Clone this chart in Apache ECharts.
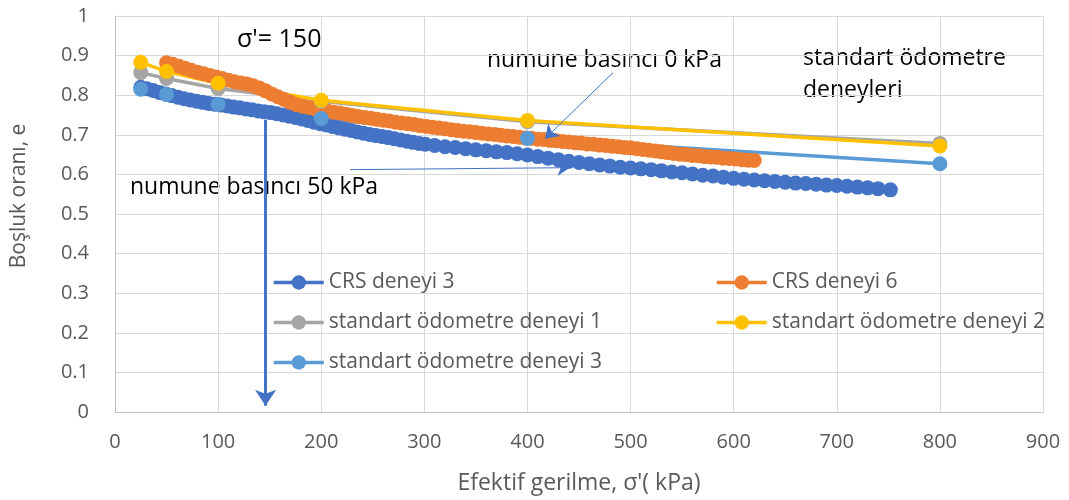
<!DOCTYPE html>
<html><head><meta charset="utf-8">
<script src="https://cdn.jsdelivr.net/npm/echarts@6/dist/echarts.min.js"></script>
<style>html,body{margin:0;padding:0;background:#fff}#c{width:1069px;height:500px}</style>
</head><body><div id="c"></div>
<script>
// ---- data ----
const seriesNames = ['CRS deneyi 3','CRS deneyi 6','standart ödometre deneyi 1','standart ödometre deneyi 2','standart ödometre deneyi 3'];
const stdX  = [25, 50, 100, 200, 400, 800];
const std1E = [0.857, 0.842, 0.817, 0.785, 0.733, 0.678];
const std2E = [0.883, 0.860, 0.830, 0.787, 0.736, 0.672];
const std3E = [0.815, 0.802, 0.777, 0.741, 0.691, 0.627];

const crs3X = [25,31,37,43,49,55,61,67,73,79,85,91,97,103,109,115,121,127,133,139,145,151,157,163,169,175,181,187,193,199,205,211,217,223,229,235,241,247,253,259,265,271,277,283,289,295,301,
  310,320,330,340,350,360,370,380,390,400,410,420,430,440,450,460,470,480,490,500,510,520,530,540,550,560,570,580,590,600,610,620,630,640,650,660,670,680,690,700,710,720,730,740,752];
const crs3E = [0.820,0.816,0.812,0.807,0.803,0.799,0.795,0.791,0.788,0.785,0.782,0.779,0.777,0.775,0.773,0.770,0.768,0.765,0.763,0.760,0.758,0.756,0.753,0.750,0.747,0.744,0.740,0.736,0.732,0.728,0.725,0.721,0.717,0.714,0.711,0.707,0.704,0.701,0.698,0.696,0.693,0.690,0.687,0.684,0.681,0.678,0.676,
  0.673,0.670,0.668,0.665,0.662,0.660,0.657,0.655,0.652,0.649,0.645,0.641,0.637,0.633,0.630,0.627,0.624,0.621,0.618,0.616,0.614,0.612,0.609,0.606,0.604,0.601,0.598,0.596,0.593,0.590,0.588,0.586,0.584,0.582,0.580,0.578,0.577,0.575,0.573,0.572,0.570,0.568,0.566,0.564,0.561];

const crs6X = [50,56,62,68,74,80,86,92,98,104,110,116,122,128,134,140,146,152,158,164,170,176,182,188,194,200,206,212,218,224,230,236,242,248,254,260,266,272,278,284,290,296,302,308,314,320,326,332,338,344,350,356,362,368,374,380,386,392,398,404,410,416,422,428,434,440,446,452,458,464,470,476,482,488,494,500,506,512,518,524,530,536,542,548,554,560,566,572,578,584,590,596,602,608,614,620];
const crs6E = [0.882,0.878,0.873,0.868,0.863,0.858,0.854,0.850,0.846,0.842,0.838,0.834,0.831,0.828,0.824,0.818,0.811,0.803,0.796,0.789,0.782,0.776,0.772,0.769,0.766,0.763,0.760,0.757,0.755,0.752,0.749,0.746,0.744,0.742,0.739,0.737,0.735,0.732,0.730,0.728,0.726,0.723,0.721,0.719,0.717,0.715,0.713,0.711,0.709,0.708,0.706,0.704,0.702,0.701,0.699,0.697,0.696,0.694,0.692,0.691,0.689,0.688,0.686,0.685,0.683,0.682,0.680,0.679,0.677,0.676,0.674,0.673,0.671,0.670,0.668,0.667,0.665,0.663,0.661,0.659,0.657,0.655,0.653,0.651,0.650,0.648,0.647,0.645,0.644,0.643,0.641,0.640,0.639,0.637,0.636,0.635];

const colors = ['#4472C4','#ED7D31','#A5A5A5','#FFC000','#5B9BD5'];
const FONT = 'Open Sans';

function pairs(xs, ys){ return xs.map((x,i)=>[x, ys[i]]); }

const chart = echarts.init(document.getElementById('c'), null, {renderer:'canvas'});

function lineSeries(name, xs, ys, color, size, lw, extra){
  return Object.assign({
    name: name, type: 'line', data: pairs(xs, ys),
    symbol: 'circle', symbolSize: size, showSymbol: true, showAllSymbol: true,
    lineStyle: {color: color, width: lw},
    itemStyle: {color: color},
    emphasis: {disabled: true},
    animation: false
  }, extra || {});
}

const legendCommon = {orient: 'vertical', top: 272, padding: 0, itemWidth: 50, itemHeight: 18, itemGap: 19,
  lineStyle: {width: 3.5},
  textStyle: {color: '#595959', fontSize: 21, fontFamily: FONT}};

const option = {
  animation: false,
  textStyle: {fontFamily: FONT},
  grid: {left: 115, right: 26, top: 16, bottom: 88, containLabel: false},
  xAxis: {
    type: 'value', min: 0, max: 900, interval: 100,
    axisLine: {show: true, lineStyle: {color: '#BFBFBF', width: 1}},
    axisTick: {show: false},
    splitLine: {show: true, lineStyle: {color: '#D9D9D9', width: 1}},
    axisLabel: {color: '#595959', fontSize: 20, margin: 20, fontFamily: FONT},
    name: "Efektif gerilme, σ'( kPa)", nameLocation: 'middle', nameGap: 60,
    nameTextStyle: {color: '#595959', fontSize: 23, fontFamily: FONT}
  },
  yAxis: {
    type: 'value', min: 0, max: 1, interval: 0.1,
    axisLine: {show: true, lineStyle: {color: '#BFBFBF', width: 1}},
    axisTick: {show: false},
    splitLine: {show: true, lineStyle: {color: '#D9D9D9', width: 1}},
    axisLabel: {color: '#595959', fontSize: 20, margin: 26, fontFamily: FONT}
  },
  legend: [
    Object.assign({left: 272, data: [seriesNames[0], seriesNames[2], seriesNames[4]]}, legendCommon),
    Object.assign({left: 715, data: [seriesNames[1], seriesNames[3]]}, legendCommon)
  ],
  graphic: [
    {type: 'text', x: 19, y: 196, rotation: Math.PI/2,
     style: {text: 'Boşluk oranı, e', fill: '#595959', font: '21px "Open Sans"', align: 'center', verticalAlign: 'middle'}},
    {type: 'text', x: 237, y: 40,
     style: {text: "σ'= 150", fill: '#000', font: '25px "Open Sans"', align: 'left', verticalAlign: 'middle'}},
    {type: 'text', x: 487, y: 60,
     style: {text: 'numune basıncı 0 kPa', fill: '#000', font: '23px "Open Sans"', align: 'left', verticalAlign: 'middle'}},
    {type: 'text', x: 130, y: 187,
     style: {text: 'numune basıncı 50 kPa', fill: '#000', font: '23px "Open Sans"', align: 'left', verticalAlign: 'middle'}},
    {type: 'text', x: 803, y: 58,
     style: {text: 'standart ödometre', fill: '#000', font: '23px "Open Sans"', align: 'left', verticalAlign: 'middle'}},
    {type: 'text', x: 803, y: 90,
     style: {text: 'deneyleri', fill: '#000', font: '23px "Open Sans"', align: 'left', verticalAlign: 'middle'}}
  ],
  series: [
    lineSeries(seriesNames[0], crs3X, crs3E, colors[0], 15, 3),
    lineSeries(seriesNames[1], crs6X, crs6E, colors[1], 15, 3),
    lineSeries(seriesNames[2], stdX, std1E, colors[2], 15, 3.5),
    lineSeries(seriesNames[3], stdX, std2E, colors[3], 15, 3.5),
    lineSeries(seriesNames[4], stdX, std3E, colors[4], 15, 3.5, {
      markLine: {
        silent: true, animation: false,
        label: {show: false},
        emphasis: {disabled: true},
        symbol: ['none', 'arrow'],
        data: [
          [{coord: [146, 0.738], lineStyle: {color: '#4472C4', width: 3, type: 'solid'}}, {coord: [146, 0.016], symbolSize: 16}],
          [{coord: [228, 0.612], lineStyle: {color: '#4472C4', width: 1, type: 'solid'}}, {coord: [441, 0.617], symbolSize: 12}],
          [{coord: [483, 0.857], lineStyle: {color: '#4472C4', width: 1, type: 'solid'}}, {coord: [417, 0.690], symbolSize: 13}]
        ]
      }
    })
  ]
};
chart.setOption(option);
</script>
</body></html>
